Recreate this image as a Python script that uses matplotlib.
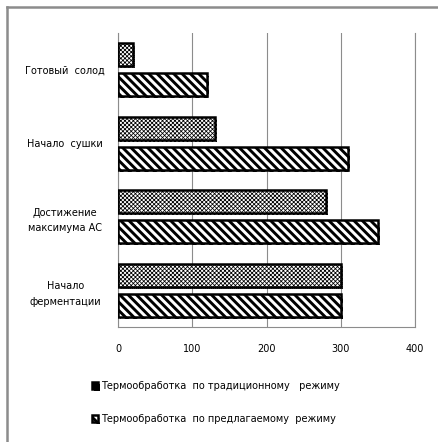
import matplotlib
matplotlib.use("Agg")
import matplotlib.pyplot as plt
import matplotlib.patheffects as pe
from matplotlib.lines import Line2D
import numpy as np

# stages, bottom to top
stages = ["Начало\nферментации", "Достижение\nмаксимума АС", "Начало  сушки", "Готовый  солод"]
traditional = [300, 280, 130, 20]
proposed = [300, 350, 310, 120]
series_names = ["Термообработка  по традиционному   режиму",
                "Термообработка  по предлагаемому  режиму"]
xticks = [0, 100, 200, 300, 400]

plt.rcParams['font.family'] = ['DejaVu Sans']
plt.rcParams['font.size'] = 7

fig = plt.figure(figsize=(4.38, 4.42), dpi=100)
ax = fig.add_axes([118 / 438, 1 - 327 / 442, 297 / 438, 294 / 442])

y = np.arange(len(stages))
shadow = [pe.SimplePatchShadow(offset=(1.6, -1.6), shadow_rgbFace='#808080', alpha=0.35), pe.Normal()]

fine_lw, stripe_lw = 0.55, 2.1
plt.rcParams['hatch.linewidth'] = fine_lw
b1 = ax.barh(y + 0.205, traditional, height=0.31, color='white', edgecolor='black',
             linewidth=1.8, hatch='xxxxxxxx', zorder=3, label=series_names[0])
plt.rcParams['hatch.linewidth'] = stripe_lw
b2 = ax.barh(y - 0.205, proposed, height=0.31, color='white', edgecolor='black',
             linewidth=1.8, hatch='\\\\\\\\', zorder=3, label=series_names[1])
for bar in list(b1) + list(b2):
    bar.set_path_effects(shadow)
for bars, lw in ((b1, fine_lw), (b2, stripe_lw)):
    for bar in bars:
        if hasattr(bar, 'set_hatch_linewidth'):
            bar.set_hatch_linewidth(lw)

ax.set_xlim(0, 400)
ax.set_ylim(-0.5, len(stages) - 0.5)
ax.set_xticks(xticks)
ax.set_xticklabels([str(t) for t in xticks])
ax.set_yticks(y)
ax.set_yticklabels(stages, ha='center', multialignment='center', linespacing=1.7)
ax.tick_params(axis='y', length=0, pad=38)
ax.tick_params(axis='x', length=0, pad=12)

ax.grid(axis='x', color='#8c8c8c', linewidth=0.8, zorder=0)
for side in ['left', 'bottom', 'right']:
    ax.spines[side].set_color('#8c8c8c')
    ax.spines[side].set_linewidth(0.8)
ax.spines['top'].set_visible(False)

fig.legend(handles=[b1, b2], labels=series_names, loc='upper left',
           bbox_to_anchor=(83 / 438, 1 - 372 / 442), frameon=False,
           handlelength=0.65, handleheight=0.65, handletextpad=0.35,
           labelspacing=2.4, fontsize=7)

# outer chart frame
fig.add_artist(Line2D([7 / 438, 7 / 438], [0, 1 - 7 / 442], color='#8c8c8c', linewidth=1.8))
fig.add_artist(Line2D([7 / 438, 1], [1 - 7 / 442, 1 - 7 / 442], color='#8c8c8c', linewidth=1.8))

fig.savefig("out.png", dpi=100)
